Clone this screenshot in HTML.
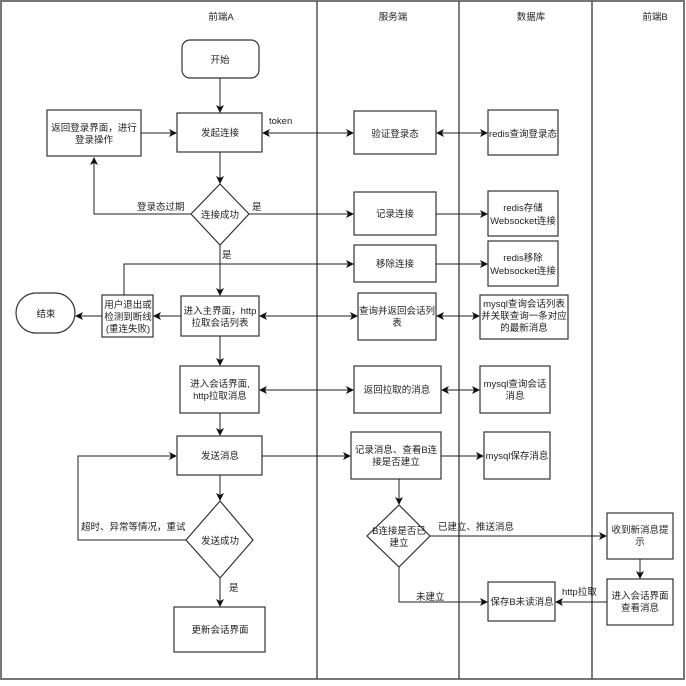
<!DOCTYPE html>
<html><head><meta charset="utf-8"><style>
html,body{margin:0;padding:0;background:#fff;}
svg text{font-family:"Liberation Sans","Noto Sans CJK SC",sans-serif;font-size:9.5px;fill:#222;}
</style></head><body>
<svg width="686" height="681" viewBox="0 0 686 681" xmlns="http://www.w3.org/2000/svg">
<defs>
<marker id="a" markerWidth="8" markerHeight="8" refX="7" refY="4" orient="auto" markerUnits="userSpaceOnUse">
<path d="M0,0 L8,4 L0,8 L2,4 z" fill="#111"/></marker>
<marker id="s" markerWidth="8" markerHeight="8" refX="1" refY="4" orient="auto" markerUnits="userSpaceOnUse">
<path d="M8,0 L0,4 L8,8 L6,4 z" fill="#111"/></marker>
</defs>
<rect x="1" y="1" width="683" height="678" fill="#fff" stroke="#777" stroke-width="2"/>
<g stroke="#555" stroke-width="1.5">
<line x1="317" y1="1" x2="317" y2="679"/>
<line x1="459" y1="1" x2="459" y2="679"/>
<line x1="592" y1="1" x2="592" y2="679"/>
</g>
<g text-anchor="middle">
<text x="221" y="20">前端A</text><text x="393" y="20">服务端</text>
<text x="531" y="20">数据库</text><text x="655" y="20">前端B</text>
</g>
<g fill="#fff" stroke="#333" stroke-width="1.2">
<rect x="182" y="40" width="77" height="38" rx="8"/>
<rect x="177" y="113" width="85" height="39"/>
<rect x="47" y="110" width="94" height="46"/>
<polygon points="220,184 249,214 220,245 191,214"/>
<rect x="354" y="111" width="82" height="43"/>
<rect x="488" y="110" width="70" height="45"/>
<rect x="354" y="192" width="82" height="43"/>
<rect x="488" y="191" width="70" height="45"/>
<rect x="354" y="245" width="82" height="37"/>
<rect x="488" y="241" width="70" height="45"/>
<rect x="181" y="296" width="78" height="40"/>
<rect x="102" y="295" width="51" height="42"/>
<rect x="16" y="293" width="59" height="40" rx="20"/>
<rect x="358" y="293" width="78" height="47"/>
<rect x="480" y="295" width="88" height="44"/>
<rect x="180" y="366" width="79" height="47"/>
<rect x="354" y="366" width="87" height="47"/>
<rect x="480" y="366" width="70" height="47"/>
<rect x="177" y="436" width="85" height="39"/>
<rect x="351" y="432" width="90" height="47"/>
<rect x="484" y="432" width="66" height="47"/>
<polygon points="220,501 253,540 220,578 186,540"/>
<rect x="174" y="607" width="91" height="45"/>
<polygon points="399,505 430,536 399,567 367,536"/>
<rect x="488" y="582" width="67" height="39"/>
<rect x="607" y="513" width="66" height="46"/>
<rect x="607" y="579" width="66" height="46"/>
</g>
<g stroke="#222" stroke-width="1" fill="none">
<line x1="220" y1="78" x2="220" y2="112" marker-end="url(#a)"/>
<line x1="141" y1="133" x2="176" y2="133" marker-end="url(#a)"/>
<line x1="263" y1="133" x2="353" y2="133" marker-start="url(#s)" marker-end="url(#a)"/>
<line x1="437" y1="133" x2="487" y2="133" marker-start="url(#s)" marker-end="url(#a)"/>
<line x1="220" y1="152" x2="220" y2="183" marker-end="url(#a)"/>
<polyline points="191,214 94,214 94,158" marker-end="url(#a)"/>
<line x1="249" y1="214" x2="353" y2="214" marker-end="url(#a)"/>
<line x1="436" y1="214" x2="487" y2="214" marker-end="url(#a)"/>
<line x1="220" y1="245" x2="220" y2="295" marker-end="url(#a)"/>
<polyline points="124,295 124,264 353,264" marker-end="url(#a)"/>
<line x1="436" y1="264" x2="487" y2="264" marker-end="url(#a)"/>
<line x1="181" y1="316" x2="154" y2="316" marker-end="url(#a)"/>
<line x1="102" y1="316" x2="76" y2="316" marker-end="url(#a)"/>
<line x1="260" y1="316" x2="357" y2="316" marker-start="url(#s)" marker-end="url(#a)"/>
<line x1="437" y1="316" x2="479" y2="316" marker-start="url(#s)" marker-end="url(#a)"/>
<line x1="220" y1="336" x2="220" y2="365" marker-end="url(#a)"/>
<line x1="260" y1="390" x2="353" y2="390" marker-start="url(#s)" marker-end="url(#a)"/>
<line x1="442" y1="390" x2="479" y2="390" marker-start="url(#s)" marker-end="url(#a)"/>
<line x1="220" y1="413" x2="220" y2="435" marker-end="url(#a)"/>
<line x1="262" y1="456" x2="350" y2="456" marker-end="url(#a)"/>
<line x1="441" y1="456" x2="483" y2="456" marker-end="url(#a)"/>
<line x1="220" y1="475" x2="220" y2="500" marker-end="url(#a)"/>
<polyline points="186,540 78,540 78,456 176,456" marker-end="url(#a)"/>
<line x1="220" y1="578" x2="220" y2="606" marker-end="url(#a)"/>
<line x1="399" y1="479" x2="399" y2="504" marker-end="url(#a)"/>
<line x1="430" y1="536" x2="606" y2="536" marker-end="url(#a)"/>
<polyline points="399,567 399,602 487,602" marker-end="url(#a)"/>
<line x1="640" y1="559" x2="640" y2="578" marker-end="url(#a)"/>
<line x1="607" y1="602" x2="556" y2="602" marker-end="url(#a)"/>
</g>
<g text-anchor="middle">
<text x="220" y="63">开始</text>
<text x="220" y="136">发起连接</text>
<text x="94" y="131">返回登录界面，进行</text><text x="94" y="143">登录操作</text>
<text x="220" y="218">连接成功</text>
<text x="395" y="137">验证登录态</text>
<text x="523" y="137">redis查询登录态</text>
<text x="395" y="217">记录连接</text>
<text x="523" y="211">redis存储</text><text x="523" y="224">Websocket连接</text>
<text x="395" y="267">移除连接</text>
<text x="523" y="261">redis移除</text><text x="523" y="274">Websocket连接</text>
<text x="220" y="314">进入主界面，http</text><text x="220" y="326">拉取会话列表</text>
<text x="128" y="308">用户退出或</text><text x="128" y="320">检测到断线</text><text x="128" y="332">(重连失败)</text>
<text x="46" y="317">结束</text>
<text x="397" y="314">查询并返回会话列</text><text x="397" y="326">表</text>
<text x="524" y="307">mysql查询会话列表</text><text x="524" y="319">并关联查询一条对应</text><text x="524" y="331">的最新消息</text>
<text x="220" y="387">进入会话界面,</text><text x="220" y="399">http拉取消息</text>
<text x="397" y="393">返回拉取的消息</text>
<text x="515" y="387">mysql查询会话</text><text x="515" y="399">消息</text>
<text x="220" y="459">发送消息</text>
<text x="396" y="453">记录消息、查看B连</text><text x="396" y="465">接是否建立</text>
<text x="517" y="459">mysql保存消息</text>
<text x="220" y="544">发送成功</text>
<text x="220" y="633">更新会话界面</text>
<text x="399" y="534">B连接是否已</text><text x="399" y="546">建立</text>
<text x="522" y="605">保存B未读消息</text>
<text x="640" y="533">收到新消息提</text><text x="640" y="545">示</text>
<text x="640" y="599">进入会话界面</text><text x="640" y="611">查看消息</text>
</g>
<text x="269" y="124">token</text>
<text x="137" y="210">登录态过期</text>
<text x="252" y="210">是</text>
<text x="222" y="258">是</text>
<text x="81" y="530">超时、异常等情况，重试</text>
<text x="229" y="591">是</text>
<text x="438" y="530">已建立、推送消息</text>
<text x="416" y="600">未建立</text>
<text x="562" y="595">http拉取</text>
</svg>
</body></html>
